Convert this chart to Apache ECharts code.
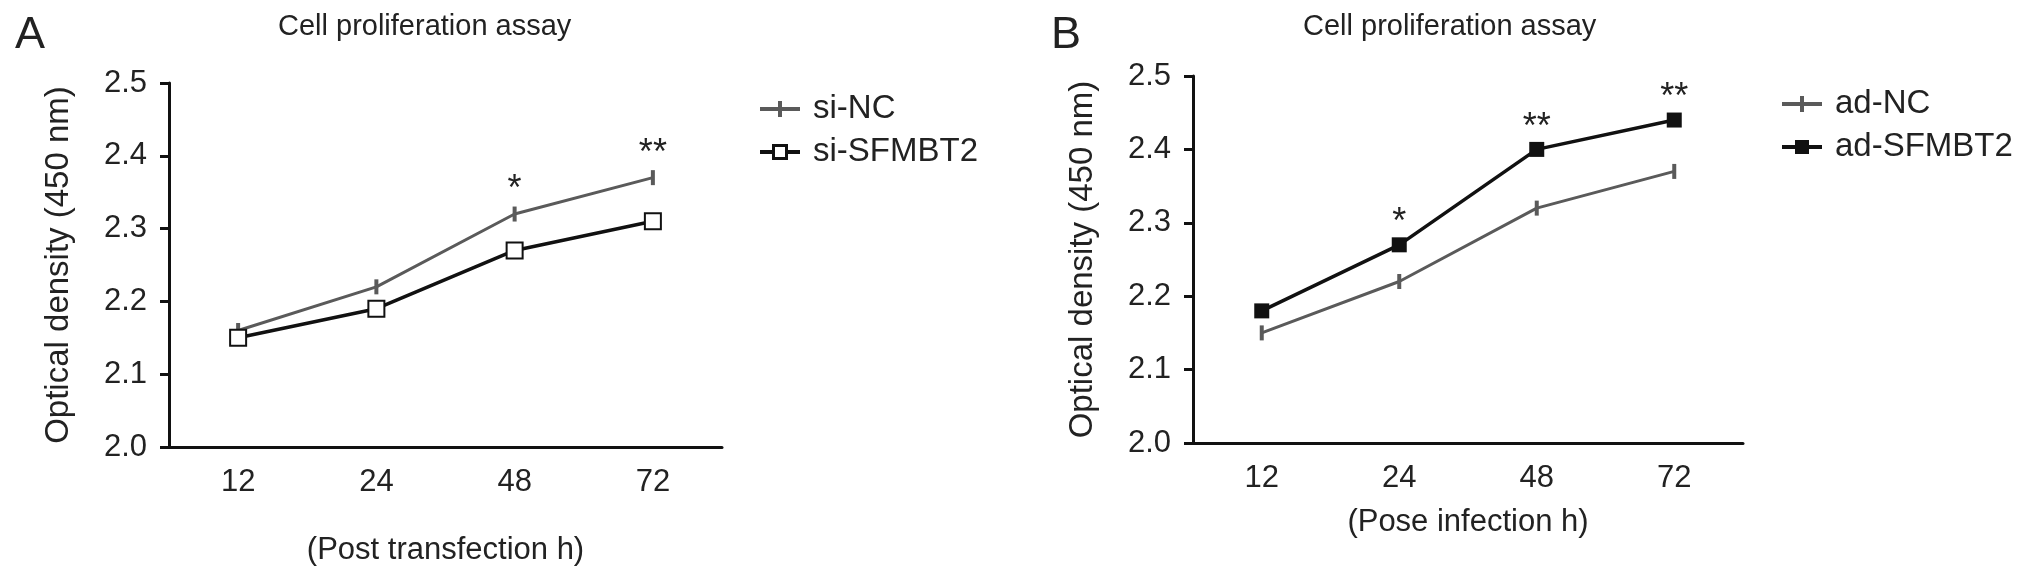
<!DOCTYPE html>
<html>
<head>
<meta charset="utf-8">
<script src="https://cdn.jsdelivr.net/npm/echarts@6/dist/echarts.min.js"></script>
<style>
    html, body { margin: 0; padding: 0; background: #fff; }
    #chart { width: 2032px; height: 579px; }
</style>
</head>
<body>
<div id="chart"></div>
<script>
    // time points (h)
    const hours = ['12', '24', '48', '72'];
    const yTicks = [2.0, 2.1, 2.2, 2.3, 2.4, 2.5];

    // panel A
    const siNC = [2.16, 2.22, 2.32, 2.37];
    const siSFMBT2 = [2.15, 2.19, 2.27, 2.31];
    const starsA = ['', '', '*', '**'];

    // panel B
    const adNC = [2.15, 2.22, 2.32, 2.37];
    const adSFMBT2 = [2.18, 2.27, 2.40, 2.44];
    const starsB = ['', '*', '**', '**'];

    const FONT = 'Liberation Sans, Arial, sans-serif';
    const INK = '#222';
    const GREY = '#5a5a5a';

    // legend glyphs: line with the marker on it
    const ICON_TICK = 'path://M0,6L40,6L40,10L0,10Z M18,0L22,0L22,16L18,16Z';
    const ICON_OPEN = 'path://M0,6L12,6L12,10L0,10Z M28,6L40,6L40,10L28,10Z M12,0L28,0L28,16L12,16Z M15,3L15,13L25,13L25,3Z';
    const ICON_FILL = 'path://M0,6L40,6L40,10L0,10Z M13,1L27,1L27,15L13,15Z';

    function xAxisFor(gridIndex, name, nameGap) {
        return {
            type: 'category',
            gridIndex: gridIndex,
            data: hours,
            boundaryGap: true,
            name: name,
            nameLocation: 'middle',
            nameGap: nameGap,
            nameTextStyle: { fontFamily: FONT, fontSize: 31, color: INK },
            axisLine: { lineStyle: { color: '#111', width: 3 } },
            axisTick: { alignWithLabel: true, length: 9, lineStyle: { color: '#111', width: 3 } },
            axisLabel: { fontFamily: FONT, fontSize: 31, color: INK, margin: 20 },
            splitLine: { show: false }
        };
    }

    function yAxisFor(gridIndex) {
        return {
            type: 'value',
            gridIndex: gridIndex,
            min: yTicks[0],
            max: yTicks[yTicks.length - 1],
            interval: 0.1,
            name: 'Optical density (450 nm)',
            nameLocation: 'middle',
            nameGap: 94,
            nameTextStyle: { fontFamily: FONT, fontSize: 33, color: INK },
            axisLine: { show: true, lineStyle: { color: '#111', width: 3 } },
            axisTick: { show: true, length: 9, lineStyle: { color: '#111', width: 3 } },
            axisLabel: { fontFamily: FONT, fontSize: 31, color: INK, margin: 22,
                formatter: v => v.toFixed(1) },
            splitLine: { show: false }
        };
    }

    function starLabel(stars, distance) {
        return {
            show: true,
            position: 'top',
            distance: distance,
            fontFamily: FONT,
            fontSize: 36,
            color: INK,
            formatter: p => stars[p.dataIndex]
        };
    }

    function legendFor(items, left, top) {
        return {
            data: items,
            orient: 'vertical',
            left: left,
            top: top,
            itemWidth: 40,
            itemHeight: 16,
            itemGap: 9,
            textStyle: { fontFamily: FONT, fontSize: 33, color: INK, lineHeight: 34, padding: [0, 0, 0, 8] }
        };
    }

    let myChart = echarts.init(document.getElementById('chart'));
    myChart.setOption({
        backgroundColor: '#fff',
        animation: false,
        title: [
            { text: 'A', left: 10, top: 8, textStyle: { fontFamily: FONT, fontSize: 45, fontWeight: 'normal', color: INK } },
            { text: 'Cell proliferation assay', left: 273, top: 7, textStyle: { fontFamily: FONT, fontSize: 29, fontWeight: 'normal', color: INK } },
            { text: 'B', left: 1046, top: 8, textStyle: { fontFamily: FONT, fontSize: 45, fontWeight: 'normal', color: INK } },
            { text: 'Cell proliferation assay', left: 1298, top: 7, textStyle: { fontFamily: FONT, fontSize: 29, fontWeight: 'normal', color: INK } }
        ],
        legend: [
            legendFor([
                { name: 'si-NC', icon: ICON_TICK, itemStyle: { borderWidth: 0 } },
                { name: 'si-SFMBT2', icon: ICON_OPEN, itemStyle: { borderWidth: 0, color: '#111' } }
            ], 755, 87),
            legendFor([
                { name: 'ad-NC', icon: ICON_TICK, itemStyle: { borderWidth: 0 } },
                { name: 'ad-SFMBT2', icon: ICON_FILL, itemStyle: { borderWidth: 0 } }
            ], 1777, 82)
        ],
        grid: [
            { left: 169, width: 553, top: 83, height: 364 },
            { left: 1193, width: 550, top: 76, height: 367 }
        ],
        xAxis: [
            xAxisFor(0, '(Post transfection h)', 88),
            xAxisFor(1, '(Pose infection h)', 64)
        ],
        yAxis: [yAxisFor(0), yAxisFor(1)],
        series: [
            {
                name: 'si-NC', type: 'line', xAxisIndex: 0, yAxisIndex: 0,
                data: siNC,
                symbol: 'rect', symbolSize: [4, 15],
                lineStyle: { color: GREY, width: 3 },
                itemStyle: { color: GREY },
                label: starLabel(starsA, -2)
            },
            {
                name: 'si-SFMBT2', type: 'line', xAxisIndex: 0, yAxisIndex: 0,
                data: siSFMBT2,
                symbol: 'emptyRect', symbolSize: 16,
                lineStyle: { color: '#111', width: 3.5 },
                itemStyle: { color: '#111', borderColor: '#111', borderWidth: 3 }
            },
            {
                name: 'ad-NC', type: 'line', xAxisIndex: 1, yAxisIndex: 1,
                data: adNC,
                symbol: 'rect', symbolSize: [4, 15],
                lineStyle: { color: GREY, width: 3 },
                itemStyle: { color: GREY }
            },
            {
                name: 'ad-SFMBT2', type: 'line', xAxisIndex: 1, yAxisIndex: 1,
                data: adSFMBT2,
                symbol: 'rect', symbolSize: 15,
                lineStyle: { color: '#111', width: 3.5 },
                itemStyle: { color: '#111' },
                label: starLabel(starsB, -4)
            }
        ]
    });
</script>
</body>
</html>
